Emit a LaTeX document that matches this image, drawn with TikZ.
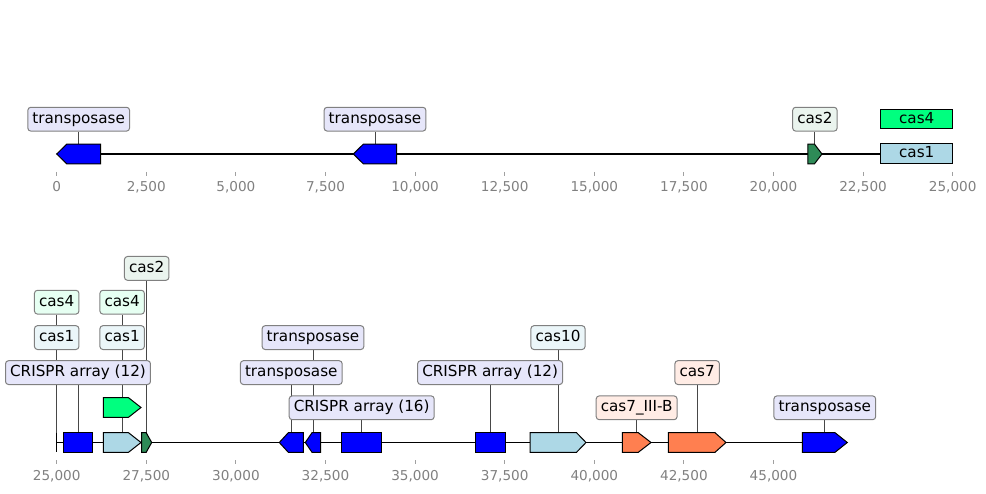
\documentclass[tikz,border=0pt]{standalone}
\usepackage{fontspec}
\setmainfont{DejaVu Sans}
\pgfdeclarelayer{back}
\pgfsetlayers{back,main}
\definecolor{cBlue}{RGB}{0,0,255}
\definecolor{cSea}{HTML}{2E8B57}
\definecolor{cSpring}{HTML}{00FF7F}
\definecolor{cLBlue}{HTML}{ADD8E6}
\definecolor{cCoral}{HTML}{FF7F50}
\definecolor{bLav}{RGB}{230,230,250}
\definecolor{bSea}{RGB}{234,244,238}
\definecolor{bSpring}{RGB}{230,255,242}
\definecolor{bLBlue}{RGB}{235,246,249}
\definecolor{bCoral}{RGB}{255,236,229}
\definecolor{cGrayTxt}{RGB}{128,128,128}
\definecolor{cTick}{RGB}{160,160,160}
\tikzset{
  feat/.style={draw=black, line width=1bp, line join=miter},
  track/.style={draw=black, line width=1.8bp},
  conn/.style={draw=black!72, line width=0.9bp},
  lab/.style={draw=black!50, line width=1bp, rounded corners=3bp, inner xsep=4.6bp, inner ysep=0pt,
    minimum height=23.8bp, text height=11.6bp, text depth=3.4bp,
    font=\fontsize{15.2bp}{18bp}\selectfont},
  inlab/.style={feat, inner sep=0pt, minimum width=72bp, minimum height=19.6bp,
    text height=11.6bp, text depth=3.4bp, font=\fontsize{15.2bp}{18bp}\selectfont},
  tickmark/.style={draw=cTick, line width=0.9bp},
  ticklab/.style={text=cGrayTxt, inner sep=0pt, font=\fontsize{13.6bp}{16bp}\selectfont}
}
% right arrow: name, x1, x2, yc, head, colour
\newcommand\featR[6]{%
  \draw[feat,fill=#6] (#2,#4-9.8) -- (#3-#5,#4-9.8) -- (#3,#4) -- (#3-#5,#4+9.8) -- (#2,#4+9.8) -- cycle;
  \coordinate (#1) at ({(#2+#3)/2},#4-9.8);}
% left arrow
\newcommand\featL[6]{%
  \draw[feat,fill=#6] (#3,#4-9.8) -- (#2+#5,#4-9.8) -- (#2,#4) -- (#2+#5,#4+9.8) -- (#3,#4+9.8) -- cycle;
  \coordinate (#1) at ({(#2+#3)/2},#4-9.8);}
% box: name, x1, x2, yc, colour
\newcommand\featB[5]{%
  \draw[feat,fill=#5] (#2,#4-9.8) rectangle (#3,#4+9.8);
  \coordinate (#1) at ({(#2+#3)/2},#4-9.8);}
% label: name, feature, row y, fill, text
\newcommand\flab[5]{\node[lab,fill=#4] (#1) at (#2 |- 0,#3) {#5};}
\begin{document}
\begin{tikzpicture}[x=1bp,y=-1bp]
\useasboundingbox (0,0) rectangle (986,494);
% ---------- top track ----------
\coordinate (ta) at (56.7,154);
\coordinate (tb) at (952.7,154);
\begin{pgfonlayer}{back}
\draw[track] (ta) -- (tb);
\end{pgfonlayer}
\featL{fT1}{56.7}{100.7}{154}{10}{cBlue}
\featL{fT2}{353.3}{396.7}{154}{10}{cBlue}
\featR{fT3}{807.8}{822}{154}{7.5}{cSea}
\node[inlab,fill=cLBlue] (T4) at (916.7,153.8) {cas1};
\node[inlab,fill=cSpring] (T5) at (916.7,119.2) {cas4};
\flab{lT1}{fT1}{119.2}{bLav}{transposase}
\flab{lT2}{fT2}{119.2}{bLav}{transposase}
\flab{lT3}{fT3}{119.2}{bSea}{cas2}
\foreach \i/\t in {0/0,1/{2,500},2/{5,000},3/{7,500},4/{10,000},5/{12,500},6/{15,000},7/{17,500},8/{20,000},9/{22,500},10/{25,000}}{
  \pgfmathsetmacro\xx{56.7+\i*89.6}
  \draw[tickmark] (\xx,172) -- (\xx,176);
  \node[ticklab] (tt\i) at (\xx,187) {\t};
}
% ---------- bottom track ----------
\coordinate (ba) at (56.7,442.5);
\coordinate (bb) at (847.3,442.5);
\begin{pgfonlayer}{back}
\draw[track] (ba) -- (bb);
\end{pgfonlayer}
\draw[feat] (56.7,432.7) -- (56.7,452.3);
\coordinate (fB0) at (56.7,432.7);
\featB{fB1}{63.3}{92.7}{442.5}{cBlue}
\featR{fB2}{103.3}{141}{442.5}{12.5}{cLBlue}
\featR{fB3}{103.3}{141}{407.5}{12.5}{cSpring}
\featR{fB4}{141.7}{151.7}{442.5}{5.5}{cSea}
\featL{fB5}{279.3}{303.3}{442.5}{9}{cBlue}
\featL{fB6}{305.3}{320.7}{442.5}{6.7}{cBlue}
\featB{fB7}{341.7}{381.7}{442.5}{cBlue}
\featB{fB8}{475}{505.3}{442.5}{cBlue}
\featR{fB9}{530}{586}{442.5}{9.5}{cLBlue}
\featR{fB10}{622.3}{651}{442.5}{12.7}{cCoral}
\featR{fB11}{668.3}{726}{442.5}{11}{cCoral}
\featR{fB12}{802.3}{847.3}{442.5}{12.3}{cBlue}
\flab{lB0a}{fB0}{337.6}{bLBlue}{cas1}
\flab{lB0b}{fB0}{302.2}{bSpring}{cas4}
\flab{lB1}{fB1}{372.6}{bLav}{CRISPR array (12)}
\flab{lB2}{fB2}{337.6}{bLBlue}{cas1}
\flab{lB3}{fB3}{302.2}{bSpring}{cas4}
\flab{lB4}{fB4}{268.4}{bSea}{cas2}
\flab{lB5}{fB5}{372.6}{bLav}{transposase}
\flab{lB6}{fB6}{337.6}{bLav}{transposase}
\flab{lB7}{fB7}{407.8}{bLav}{CRISPR array (16)}
\flab{lB8}{fB8}{372.6}{bLav}{CRISPR array (12)}
\flab{lB9}{fB9}{337.6}{bLBlue}{cas10}
\flab{lB10}{fB10}{407.8}{bCoral}{cas7\_III-B}
\flab{lB11}{fB11}{372.6}{bCoral}{cas7}
\flab{lB12}{fB12}{407.8}{bLav}{transposase}
\foreach \i/\t in {0/{25,000},1/{27,500},2/{30,000},3/{32,500},4/{35,000},5/{37,500},6/{40,000},7/{42,500},8/{45,000}}{
  \pgfmathsetmacro\xx{56.7+\i*89.6}
  \draw[tickmark] (\xx,460) -- (\xx,464);
  \node[ticklab] (bt\i) at (\xx,476) {\t};
}
% ---------- connectors ----------
\begin{pgfonlayer}{back}
\foreach \l/\f in {lT1/fT1,lT2/fT2,lT3/fT3,lB0a/fB0,lB0b/fB0,lB1/fB1,lB2/fB2,lB3/fB3,lB4/fB4,lB5/fB5,lB6/fB6,lB7/fB7,lB8/fB8,lB9/fB9,lB10/fB10,lB11/fB11,lB12/fB12}
  \draw[conn] (\l.south) -- (\f);
\end{pgfonlayer}
\end{tikzpicture}
\end{document}
